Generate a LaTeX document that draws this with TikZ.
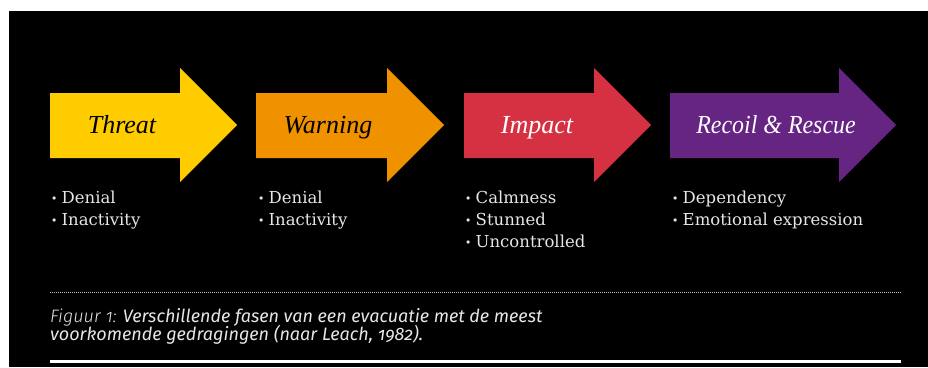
\documentclass[tikz,border=0pt]{standalone}
\usepackage{fontspec}
\newfontfamily\arrowfont{Liberation Serif}
\newfontfamily\itemfont{DejaVu Serif}
\newfontfamily\capfont{Fira Sans}[Numbers=OldStyle]
\newfontfamily\caplight{Fira Sans Light}[Numbers=OldStyle]
\definecolor{cthreat}{HTML}{FFCC00}
\definecolor{cwarn}{HTML}{F09100}
\definecolor{cimpact}{HTML}{D63142}
\definecolor{crecoil}{HTML}{662483}
\definecolor{ctext}{HTML}{E6E6E6}
\newcommand{\bul}{\makebox[9.5pt][l]{\raisebox{3pt}{\fontsize{8}{8}\selectfont$\bullet$}}}
\begin{document}
\begin{tikzpicture}[x=1pt,y=-1pt,
  lab/.style={font=\arrowfont\itshape\fontsize{26}{26}\selectfont, anchor=base, inner sep=0},
  item/.style={font=\itemfont\fontsize{16.5}{22}\selectfont, text=ctext, anchor=base west, inner sep=0},
  captext/.style={font=\capfont\itshape\fontsize{18}{20}\selectfont, text=ctext, anchor=base west, inner sep=0}]
\useasboundingbox (0,0) rectangle (928,367);
\fill[white] (0,0) rectangle (928,367);
\fill[black] (9,11) rectangle (928,367);
% arrows
\fill[cthreat] (50,93) -- (180,93) -- (180,68) -- (237,125) -- (180,182) -- (180,158) -- (50,158) -- cycle;
\fill[cwarn] (256,93) -- (387,93) -- (387,68) -- (444,125) -- (387,182) -- (387,158) -- (256,158) -- cycle;
\fill[cimpact] (464,93) -- (594,93) -- (594,68) -- (651,125) -- (594,182) -- (594,158) -- (464,158) -- cycle;
\fill[crecoil] (670,93) -- (839,93) -- (839,68) -- (896,125) -- (839,182) -- (839,158) -- (670,158) -- cycle;
% labels
\node[lab, text=black] (lthreat) at (122,133) {Threat};
\node[lab, text=black] (lwarn) at (328,133) {Warning};
\node[lab, text=white] (limpact) at (537,133) {Impact};
\node[lab, text=white] (lrecoil) at (776,133) {\scalebox{0.92}[1]{Recoil \& Rescue}};
% items
\node[item] (t1) at (52,203) {\bul Denial};
\node[item] (t2) at (52,225) {\bul Inactivity};
\node[item] (w1) at (259,203) {\bul Denial};
\node[item] (w2) at (259,225) {\bul Inactivity};
\node[item] (i1) at (466,203) {\bul Calmness};
\node[item] (i2) at (466,225) {\bul Stunned};
\node[item] (i3) at (466,247) {\bul Uncontrolled};
\node[item] (r1) at (673,203) {\bul Dependency};
\node[item] (r2) at (673,225) {\bul Emotional expression};
% caption
\coordinate (dl) at (50,292.5);
\coordinate (dr) at (902,292.5);
\draw[white!75!black, line width=0.8pt, dash pattern=on 1pt off 1pt] (dl) -- (dr);
\node[captext] (c1) at (50,322) {{\caplight Figuur 1:} Verschillende fasen van een evacuatie met de meest};
\node[captext] (c2) at (50,340) {voorkomende gedragingen (naar Leach, 1982).};
\coordinate (bl) at (50,361.5);
\coordinate (br) at (901,361.5);
\draw[white, line width=3pt] (bl) -- (br);
\end{tikzpicture}
\end{document}
